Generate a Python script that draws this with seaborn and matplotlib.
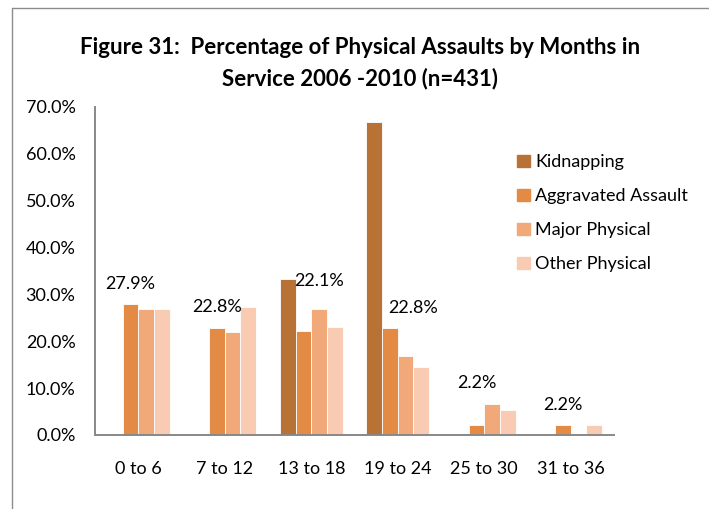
import pandas as pd
import matplotlib.pyplot as plt
import seaborn as sns
from matplotlib.lines import Line2D

# Data
months = ['0 to 6', '7 to 12', '13 to 18', '19 to 24', '25 to 30', '31 to 36']
kidnapping = [0, 0, 33.3, 66.7, 0, 0]
aggravated = [27.9, 22.8, 22.1, 22.8, 2.2, 2.2]
major_physical = [26.9, 22.0, 26.9, 16.8, 6.6, 0]
other_physical = [26.9, 27.3, 23.1, 14.6, 5.4, 2.2]
group_share = [27.9, 22.8, 22.1, 22.8, 2.2, 2.2]

series = ['Kidnapping', 'Aggravated Assault', 'Major Physical', 'Other Physical']
colors = ['#B97236', '#E38B45', '#F2A97A', '#F8CBB2']

# label placement (offsets from group centre / label height in %)
label_dx = [-0.09, -0.09, 0.09, 0.18, -0.08, -0.09]
label_y = [32.3, 27.3, 32.8, 27.2, 11.0, 6.5]

df = pd.DataFrame({
    'month': months * 4,
    'type': sum([[s] * len(months) for s in series], []),
    'pct': kidnapping + aggravated + major_physical + other_physical,
})

sns.set_style('white')
plt.rcParams['font.family'] = ['Lato', 'DejaVu Sans']
plt.rcParams['text.color'] = 'black'

fig = plt.figure(figsize=(7.09, 5.09), dpi=100)
ax = fig.add_axes([0.134, 0.1454, 0.732, 0.6444])

sns.barplot(data=df, x='month', y='pct', hue='type', hue_order=series,
            palette=colors, width=0.725, edgecolor='white', linewidth=0.6,
            saturation=1, ax=ax, legend=False)

ax.set_ylim(0, 70)
ax.set_xlim(-0.5, len(months) - 0.5)
ax.set_yticks(range(0, 71, 10))
ax.set_yticklabels([f'{v:.1f}%' for v in range(0, 71, 10)], fontsize=13)
ax.set_xticks(range(len(months)))
ax.set_xticklabels(months, fontsize=13)
ax.set_xlabel('')
ax.set_ylabel('')

# x ticks at group boundaries, labels at centres
ax.set_xticks([i - 0.5 for i in range(len(months) + 1)], minor=True)
ax.tick_params(axis='x', which='major', length=0, pad=19, labelcolor='black')
ax.tick_params(axis='x', which='minor', length=6, color='#888888', width=1.2, direction='out')
ax.tick_params(axis='y', length=5, color='#888888', width=1.2, direction='out', pad=9,
               labelcolor='black')

for side in ['top', 'right']:
    ax.spines[side].set_visible(False)
for side in ['left', 'bottom']:
    ax.spines[side].set_color('#888888')
    ax.spines[side].set_linewidth(1.4)

for i, share in enumerate(group_share):
    ax.text(i + label_dx[i], label_y[i], f'{share:.1f}%', ha='center', va='center', fontsize=13)

handles = [plt.Rectangle((0, 0), 1, 1, color=c) for c in colors]
ax.legend(handles, series, loc='upper left', bbox_to_anchor=(0.8, 0.878),
          frameon=False, fontsize=13, handlelength=0.7, handleheight=0.7,
          handletextpad=0.3, labelspacing=1.0, borderaxespad=0)

fig.text(0.508, 0.876, 'Figure 31:  Percentage of Physical Assaults by Months in\nService 2006 -2010 (n=431)',
         ha='center', va='center', fontsize=16, fontweight='bold', linespacing=1.55)

# chart border
fig.add_artist(Line2D([0.017, 0.017], [0, 0.985], transform=fig.transFigure, color='#8c8c8c', lw=1))
fig.add_artist(Line2D([0.017, 1], [0.985, 0.985], transform=fig.transFigure, color='#8c8c8c', lw=1))

plt.savefig('out.png', dpi=100)
